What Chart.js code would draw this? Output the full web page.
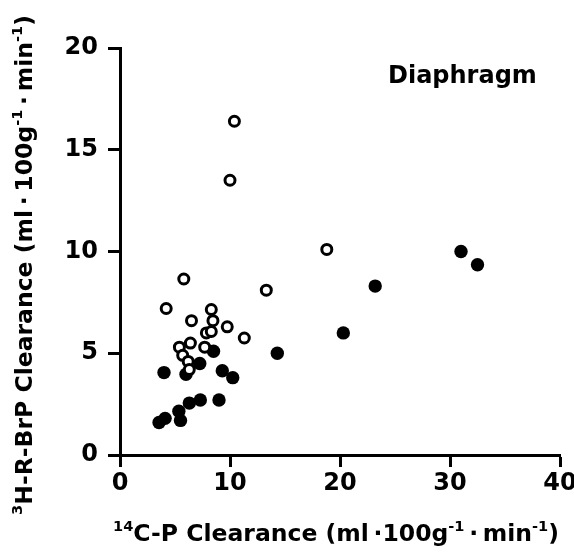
<!DOCTYPE html>
<html>
<head>
<meta charset="utf-8">
<script src="https://cdn.jsdelivr.net/npm/chart.js@4"></script>
<style>
  html, body { margin: 0; padding: 0; background: #fff; }
  #wrap { width: 574px; height: 557px; }
</style>
</head>
<body>
<div id="wrap"><canvas id="chart" width="574" height="557"></canvas></div>
<script>
// open circles
const openX = [10.4, 10.0, 18.8, 5.8, 13.3, 4.2, 8.3, 6.5, 8.45, 9.75, 11.3, 7.85, 8.3, 6.4, 5.4, 7.7, 5.7, 6.2, 6.3];
const openY = [16.4, 13.5, 10.1, 8.65, 8.1, 7.2, 7.15, 6.6, 6.6, 6.3, 5.75, 6.0, 6.07, 5.5, 5.3, 5.3, 4.9, 4.6, 4.2];
// filled circles
const filledX = [31.0, 32.5, 23.2, 20.3, 14.3, 8.5, 7.25, 4.0, 6.0, 9.3, 10.25, 7.3, 6.3, 9.0, 5.35, 5.5, 4.1, 3.55];
const filledY = [10.0, 9.35, 8.3, 6.0, 5.0, 5.1, 4.5, 4.05, 3.97, 4.14, 3.8, 2.7, 2.55, 2.7, 2.15, 1.7, 1.8, 1.6];
const xTicks = [0, 10, 20, 30, 40];
const yTicks = [0, 5, 10, 15, 20];

const FONT = "'DejaVu Sans', sans-serif";

function pts(xs, ys) {
    return xs.map((x, i) => ({ x: x, y: ys[i] }));
}

// draws text pieces, some of them as superscripts
function richText(ctx, segs, size) {
    let widths = segs.map((s) => {
        ctx.font = `bold ${s.sup ? size * 0.62 : size}px ${FONT}`;
        return ctx.measureText(s.t).width;
    });
    let total = widths.reduce((a, b) => a + b, 0);
    let x = -total / 2;
    segs.forEach((s, i) => {
        ctx.font = `bold ${s.sup ? size * 0.62 : size}px ${FONT}`;
        ctx.fillText(s.t, x, s.sup ? -size * 0.42 : 0);
        x += widths[i];
    });
}

const labelsPlugin = {
    id: "labels",
    afterDraw(chart) {
        const ctx = chart.ctx;
        ctx.save();
        ctx.fillStyle = "#000";
        ctx.textBaseline = "alphabetic";
        ctx.textAlign = "left";

        ctx.save();
        ctx.translate(336, 541);
        richText(ctx, [
            { t: "14", sup: true }, { t: "C-P Clearance (ml\u2009\u00b7100g" },
            { t: "-1", sup: true }, { t: "\u2009\u00b7\u2009min" }, { t: "-1", sup: true }, { t: ")" }
        ], 23.5);
        ctx.restore();

        ctx.save();
        ctx.translate(32, 265);
        ctx.rotate(-Math.PI / 2);
        richText(ctx, [
            { t: "3", sup: true }, { t: "H-R-BrP Clearance (ml\u2009\u00b7\u2009100g" },
            { t: "-1", sup: true }, { t: "\u2009\u00b7\u2009min" }, { t: "-1", sup: true }, { t: ")" }
        ], 23.5);
        ctx.restore();

        ctx.font = `bold 24px ${FONT}`;
        ctx.fillText("Diaphragm", 388, 83);
        ctx.restore();
    }
};

new Chart(document.getElementById("chart"), {
    type: "scatter",
    data: {
        datasets: [
            {
                label: "open",
                data: pts(openX, openY),
                pointRadius: 5,
                pointBorderWidth: 3,
                borderColor: "#000",
                backgroundColor: "#fff",
                pointHoverRadius: 5
            },
            {
                label: "filled",
                data: pts(filledX, filledY),
                pointRadius: 6.7,
                pointBorderWidth: 0,
                borderColor: "#000",
                backgroundColor: "#000",
                pointHoverRadius: 6.7
            }
        ]
    },
    options: {
        responsive: false,
        animation: false,
        layout: { padding: { top: 48, right: 14, bottom: 0, left: 0 } },
        plugins: {
            legend: { display: false },
            tooltip: { enabled: false }
        },
        scales: {
            x: {
                type: "linear",
                min: 0,
                max: 40,
                afterBuildTicks: (s) => { s.ticks = xTicks.map((v) => ({ value: v })); },
                afterFit: (s) => { s.height = 102; s.paddingRight = 0; s.paddingLeft = 0; },
                grid: { drawOnChartArea: false, tickLength: 12, tickWidth: 3, tickColor: "#000" },
                border: { width: 3, color: "#000" },
                ticks: { color: "#000", padding: 2, font: { family: FONT, size: 24, weight: "bold" } }
            },
            y: {
                type: "linear",
                min: 0,
                max: 20,
                afterBuildTicks: (s) => { s.ticks = yTicks.map((v) => ({ value: v })); },
                afterFit: (s) => { s.width = 120; s.paddingTop = 0; s.paddingBottom = 0; },
                grid: { drawOnChartArea: false, tickLength: 12, tickWidth: 3, tickColor: "#000" },
                border: { width: 3, color: "#000" },
                ticks: { color: "#000", padding: 10, font: { family: FONT, size: 24, weight: "bold" } }
            }
        }
    },
    plugins: [labelsPlugin]
});
</script>
</body>
</html>
